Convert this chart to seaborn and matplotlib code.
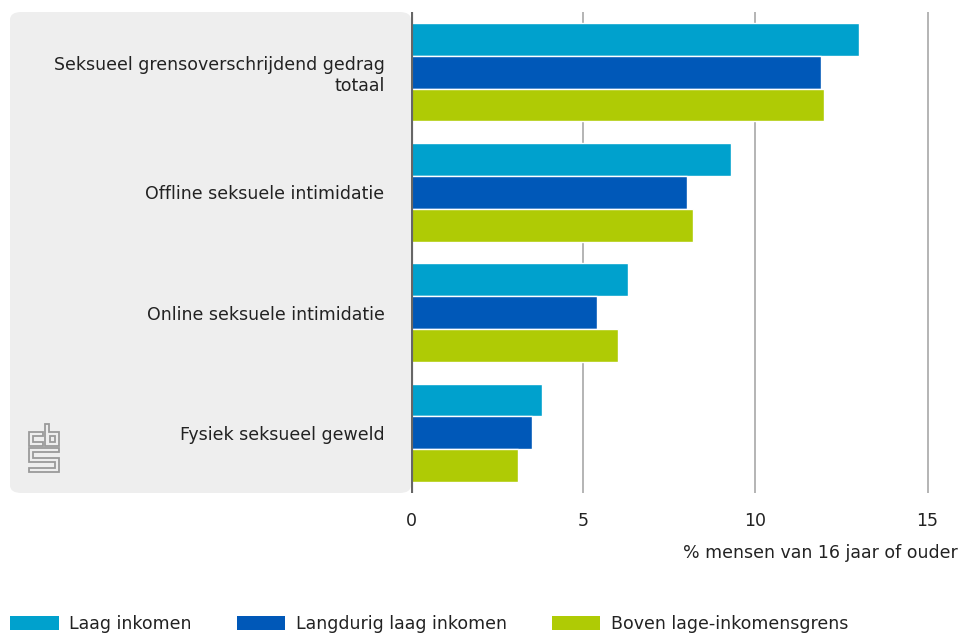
import matplotlib
matplotlib.use("Agg")
import matplotlib.pyplot as plt
from matplotlib.patches import FancyBboxPatch, Polygon, Patch
import seaborn as sns
import pandas as pd

categories = [
    "Seksueel grensoverschrijdend gedrag\ntotaal",
    "Offline seksuele intimidatie",
    "Online seksuele intimidatie",
    "Fysiek seksueel geweld",
]
series = ["Laag inkomen", "Langdurig laag inkomen", "Boven lage-inkomensgrens"]
laag_inkomen = [13.0, 9.3, 6.3, 3.8]
langdurig_laag = [11.9, 8.0, 5.4, 3.5]
boven_grens = [12.0, 8.2, 6.0, 3.1]
x_ticks = [0, 5, 10, 15]
x_label = "% mensen van 16 jaar of ouder"

colors = ["#00A1CD", "#0058B8", "#AFCB05"]

rows = []
for s, vals in zip(series, [laag_inkomen, langdurig_laag, boven_grens]):
    for c, v in zip(categories, vals):
        rows.append({"categorie": c, "groep": s, "waarde": v})
df = pd.DataFrame(rows)

sns.set_theme(style="white")
plt.rcParams["font.family"] = ["DejaVu Sans"]

FS = 12.5
W, H = 961, 635
fig = plt.figure(figsize=(W / 100, H / 100), dpi=100)


def fx(px):
    return px / W


def fy(py):
    return 1 - py / H


# grey label panel behind the category names
panel = FancyBboxPatch((fx(10), fy(493)), fx(411) - fx(10), fy(12) - fy(493),
                       boxstyle="round,pad=0,rounding_size=0.012",
                       transform=fig.transFigure, facecolor="#eeeeee",
                       edgecolor="none", zorder=-5)
fig.patches.append(panel)

ax = fig.add_axes([fx(411), fy(493), fx(961) - fx(411), fy(12) - fy(493)])
ax.patch.set_alpha(0)

sns.barplot(data=df, y="categorie", x="waarde", hue="groep", order=categories,
            hue_order=series, palette=colors, saturation=1, orient="h",
            width=0.82, edgecolor="white", linewidth=1.0, ax=ax, legend=False,
            zorder=3)

ax.set_xlim(0, 15.97)
ax.set_ylim(3.5, -0.5)
ax.set_xticks(x_ticks)
ax.set_xticklabels([str(t) for t in x_ticks])
for t in x_ticks[1:]:
    ax.axvline(t, color="#a0a0a0", lw=1.1, zorder=1)
ax.axvline(0, color="#666666", lw=3, zorder=4)

for sp in ax.spines.values():
    sp.set_visible(False)
ax.tick_params(axis="x", length=0, pad=14, labelsize=FS, labelcolor="#222222")
ax.tick_params(axis="y", length=0, pad=19, labelsize=FS, labelcolor="#222222")
for lbl in ax.get_yticklabels():
    lbl.set_multialignment("right")
ax.set_ylabel("")
ax.set_xlabel("")

fig.text(fx(958), fy(553), x_label, ha="right", va="center", fontsize=FS,
         color="#222222")

# logo drawn as outlined shapes
logo_shapes = [
    [(29, 432), (43, 432), (43, 436), (33, 436), (33, 442), (43, 442), (43, 446), (29, 446)],
    [(45, 424), (49, 424), (49, 432), (59, 432), (59, 446), (45, 446)],
    [(50, 436), (55, 436), (55, 442), (50, 442)],
    [(29, 448), (59, 448), (59, 452), (33, 452), (33, 458), (59, 458), (59, 472),
     (29, 472), (29, 468), (55, 468), (55, 462), (29, 462)],
]
for shape in logo_shapes:
    fig.patches.append(Polygon([(fx(x), fy(y)) for x, y in shape], closed=True,
                               transform=fig.transFigure, facecolor="none",
                               edgecolor="#9a9a9a", lw=1.3, zorder=2))

handles = [Patch(facecolor=c, edgecolor="none") for c in colors]
fig.legend(handles, series, loc="lower left", bbox_to_anchor=(fx(10), fy(633)),
           bbox_transform=fig.transFigure, ncol=3, frameon=False, fontsize=FS,
           handlelength=2.8, handleheight=0.9, handletextpad=0.6,
           columnspacing=2.6, borderpad=0, borderaxespad=0, labelcolor="#222222")

fig.savefig("out.png", dpi=100)
